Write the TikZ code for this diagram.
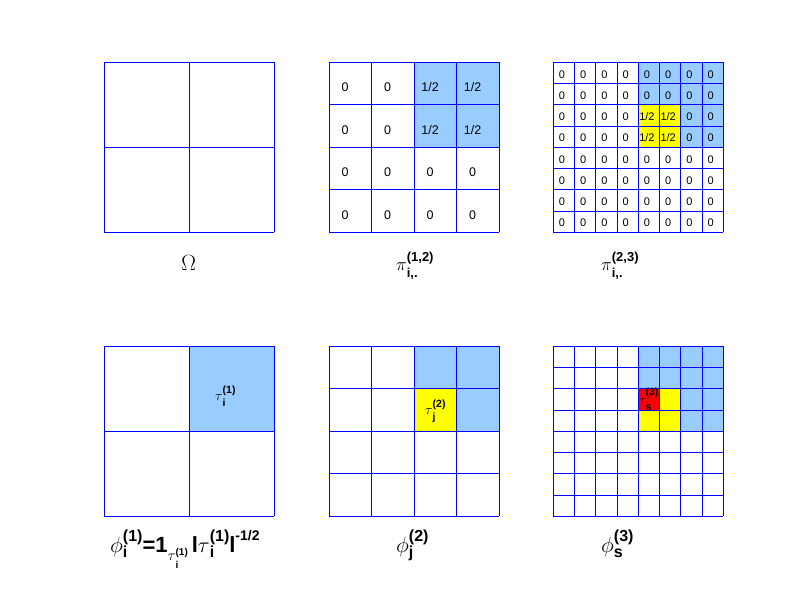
\RequirePackage{fix-cm}
\documentclass[tikz,border=0pt]{standalone}
\usepackage[no-math]{fontspec}
\setmainfont{Liberation Sans}
\definecolor{lblue}{RGB}{153,204,255}
\definecolor{gblue}{RGB}{0,0,255}
\definecolor{cyel}{RGB}{255,255,0}
\definecolor{cred}{RGB}{255,0,0}
\newcommand\mygrid[3]{%
  \foreach \k in {0,...,#3}{%
    \draw[gl] ({#1+\k*170/#3},#2) -- ++(0,170);
    \draw[gl] (#1,{#2+\k*170/#3}) -- ++(170,0);
  }}
\newcommand\mycell[6]{%
  \fill[#6] ({#1+(#4-1)*170/#3},{#2+(#5-1)*170/#3}) rectangle ++({170/#3},{170/#3});}
\newsavebox\bsup
\newsavebox\bsub
% #1 sup, #2 sub, #3 sup size, #4 sub size, #5 raise, #6 lower
\newcommand\supsubx[6]{%
  \sbox\bsup{\fontsize{#3}{#3}\selectfont\bfseries #1}%
  \sbox\bsub{\fontsize{#4}{#4}\selectfont\bfseries #2}%
  \ifdim\wd\bsup>\wd\bsub
    \rlap{\raisebox{-#6}{\usebox\bsub}}\raisebox{#5}{\usebox\bsup}%
  \else
    \rlap{\raisebox{#5}{\usebox\bsup}}\raisebox{-#6}{\usebox\bsub}%
  \fi}
\newcommand\gk[2]{{\fontsize{#1}{#1}\selectfont$#2$}}
\newcommand\bft[2]{{\fontsize{#1}{#1}\selectfont\bfseries #2}}
\begin{document}
\begin{tikzpicture}[x=1pt,y=-1pt,
  gl/.style={draw=gblue,line width=1pt},
  valB/.style={anchor=base,inner sep=0pt,font=\fontsize{12.5}{14}\selectfont},
  valC/.style={anchor=base,inner sep=0pt,font=\fontsize{11}{13}\selectfont},
  lab/.style={anchor=base west,inner sep=0pt}]
\useasboundingbox (0,0) rectangle (800,600);
\fill[white] (0,0) rectangle (800,600);
% ---- fills
\foreach \r in {1,2}{\foreach \c in {3,4}{\mycell{329.3}{62.3}{4}{\c}{\r}{lblue}}}
\foreach \r in {1,...,4}{\foreach \c in {5,...,8}{\mycell{553.3}{62.3}{8}{\c}{\r}{lblue}}}
\foreach \r in {3,4}{\foreach \c in {5,6}{\mycell{553.3}{62.3}{8}{\c}{\r}{cyel}}}
\mycell{104.3}{346.3}{2}{2}{1}{lblue}
\foreach \r in {1,2}{\foreach \c in {3,4}{\mycell{329.3}{346.3}{4}{\c}{\r}{lblue}}}
\mycell{329.3}{346.3}{4}{3}{2}{cyel}
\foreach \r in {1,...,4}{\foreach \c in {5,...,8}{\mycell{553.3}{346.3}{8}{\c}{\r}{lblue}}}
\foreach \r in {3,4}{\foreach \c in {5,6}{\mycell{553.3}{346.3}{8}{\c}{\r}{cyel}}}
\mycell{553.3}{346.3}{8}{5}{3}{cred}
% ---- grid lines
\mygrid{104.3}{62.3}{2}
\mygrid{329.3}{62.3}{4}
\mygrid{553.3}{62.3}{8}
\mygrid{104.3}{346.3}{2}
\mygrid{329.3}{346.3}{4}
\mygrid{553.3}{346.3}{8}
% ---- values grid B
\foreach \r in {1,...,4}{\foreach \c in {1,...,4}{%
  \node[valB] (b-\r-\c) at ({329.3+(\c-0.5)*42.5-5.5},{62.3+(\r-0.5)*42.5+8})
    {\ifnum\r<3 \ifnum\c>2 1/2\else 0\fi\else 0\fi};}}
% ---- values grid C
\foreach \r in {1,...,8}{\foreach \c in {1,...,8}{%
  \node[valC] (c-\r-\c) at ({553.3+(\c-0.5)*21.25-2},{62.3+(\r-0.5)*21.25+5.3})
    {\ifnum\r>2 \ifnum\r<5 \ifnum\c>4 \ifnum\c<7 1/2\else 0\fi\else 0\fi\else 0\fi\else 0\fi};}}
% ---- tau labels
\node[lab] (tau1) at (215,400) {\gk{14}{\tau}\supsubx{(1)}{i}{10.5}{10.5}{7pt}{6.5pt}};
\node[lab] (tau2) at (425,414) {\gk{14}{\tau}\supsubx{(2)}{j}{10.5}{10.5}{7pt}{6.5pt}};
\node[lab] (tau3) at (639.3,403) {\gk{11}{\tau}\supsubx{(3)}{s}{10.5}{10.5}{8pt}{7pt}};
% ---- top labels
\node[anchor=base,inner sep=0pt] (omega) at (188.7,270) {\gk{22}{\Omega}};
\node[lab] (pi12) at (396,270) {\gk{18}{\pi}\supsubx{(1,2)}{i,.}{13}{13}{9pt}{7pt}};
\node[lab] (pi23) at (601,270) {\gk{18}{\pi}\supsubx{(2,3)}{i,.}{13}{13}{9pt}{7pt}};
% ---- bottom labels
\node[lab] (phi1) at (110,552) {\gk{22}{\phi}\supsubx{(1)}{i}{16}{16}{10.5pt}{5pt}%
  \bft{22}{=1}%
  \raisebox{-8pt}{\gk{15}{\tau}\supsubx{(1)}{i}{10}{10}{5pt}{8pt}}%
  \hspace{4pt}\bft{22}{l}\gk{22}{\tau}\supsubx{(1)}{i}{16}{16}{11pt}{5pt}%
  \bft{22}{l}\raisebox{12pt}{\bft{14}{-1/2}}};
\node[lab] (phi2) at (396,552) {\gk{22}{\phi}\supsubx{(2)}{j}{16}{16}{10.5pt}{5pt}};
\node[lab] (phi3) at (601,552) {\gk{22}{\phi}\supsubx{(3)}{s}{16}{16}{10.5pt}{5pt}};
\end{tikzpicture}
\end{document}
